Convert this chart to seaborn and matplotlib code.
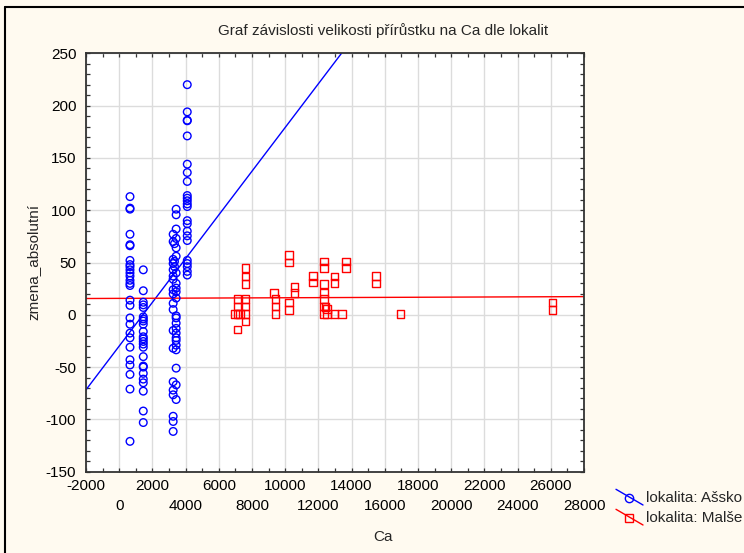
import numpy as np
import pandas as pd
import matplotlib
matplotlib.use("Agg")
import matplotlib.pyplot as plt
import seaborn as sns
from matplotlib.lines import Line2D
from matplotlib.ticker import MultipleLocator, NullLocator

# ---------------- data ----------------
# lokalita: Ašsko (blue circles)
ass_ca = ([650] * 27 + [1450] * 24 + [3250] * 19 + [3330] * 3 + [3430] * 23 + [4100] * 23)
ass_zm = [
    # Ca ~ 650
    113, 102, 101, 77, 67, 66, 52, 48, 46, 43, 40, 37, 33, 30, 28, 14, 9,
    -3, -9, -17.5, -22, -31, -43, -48, -57, -71, -121,
    # Ca ~ 1450
    43, 23, 12, 9.5, 7, -2, -4, -6, -9, -16, -21, -23, -25.5, -28, -31,
    -40, -49, -50, -56, -61.5, -65, -73, -92, -103,
    # Ca ~ 3250
    77, 70, 53, 49, 43, 37, 34, 24, 20, 11, 5, -15, -32, -64, -72, -76.5,
    -97, -102, -111.5,
    # Ca ~ 3330
    68, 51, 46,
    # Ca ~ 3430
    101, 95.6, 82, 73, 64, 56, 40, 30, 25.5, 22, 16, -1, -3, -8, -13,
    -17.5, -22, -24.5, -29, -33.5, -51, -67, -81,
    # Ca ~ 4100
    220, 194, 186, 185.5, 171, 144, 136, 127.5, 114, 111.5, 109, 106,
    103.5, 90, 87, 80, 75.5, 71, 52, 49, 46, 41.5, 38,
]

# lokalita: Malše (red squares)
mal_ca = [6960, 7120, 7120, 7120, 7120, 7260,
          7620, 7620, 7620, 7620, 7620, 7620, 7620,
          9320, 9420, 9420, 9420,
          10220, 10220, 10220, 10220,
          10560, 10560,
          11660, 11660,
          12330, 12330, 12330, 12330, 12330, 12330, 12330,
          12420, 12510, 12510,
          12970, 12970, 12970,
          13430,
          13670, 13670,
          15480, 15480,
          16940,
          26100, 26100]
mal_zm = [1, 15, 8, 1, -14, 1,
          44.6, 36.6, 29.6, 15, 8, 1, -6.4,
          20.7, 15, 8, 1,
          57.4, 50, 11.8, 4.8,
          26.5, 20.7,
          37.3, 30.9,
          51, 44.6, 29.6, 21, 15, 8, 1,
          7.5, 5.4, 1,
          36.6, 30.3, 1,
          1,
          51, 45,
          37, 30,
          1,
          11.8, 4.8]

# linear fits shown in the chart: [intercept, slope]
ass_fit = [-29.9, 0.0209]
mal_fit = [15.7, 0.00006]

x_ticks = list(range(-2000, 28001, 2000))
x_ticks_upper = x_ticks[0::2]   # -2000, 2000, 6000, ...
x_ticks_lower = x_ticks[1::2]   # 0, 4000, 8000, ...
y_ticks = list(range(-150, 251, 50))
title = "Graf závislosti velikosti přírůstku na Ca dle lokalit"
legend_labels = ["lokalita: Ašsko", "lokalita: Malše"]

# ---------------- style ----------------
sns.set_style("white")
plt.rcParams["font.family"] = ["Liberation Sans", "DejaVu Sans"]
FS = 11
plt.rcParams["font.size"] = FS

bg = "#fffaf0"
blue = "#0000ff"
red = "#ff0000"

fig = plt.figure(figsize=(7.44, 5.53), dpi=100, facecolor=bg)
W, H = 744, 553
ax_l, ax_r, ax_t, ax_b = 86, 584, 53.3, 471.7
ax = fig.add_axes([ax_l / W, 1 - ax_b / H, (ax_r - ax_l) / W, (ax_b - ax_t) / H])
ax.set_facecolor("white")

ax.set_xlim(-2000, 28000)
ax.set_ylim(-150, 250)

ax.grid(True, which="major", color="#dcdcdc", linewidth=1.0, zorder=0)
ax.set_axisbelow(True)

# fit lines
ax.axline((0, ass_fit[0]), slope=ass_fit[1], color=blue, lw=1.0, zorder=2)
ax.axline((0, mal_fit[0]), slope=mal_fit[1], color=red, lw=1.0, zorder=2)

df_a = pd.DataFrame({"Ca": ass_ca, "zmena_absolutni": ass_zm})
df_m = pd.DataFrame({"Ca": mal_ca, "zmena_absolutni": mal_zm})
sns.scatterplot(data=df_a, x="Ca", y="zmena_absolutni", marker="o", s=30,
                facecolor="none", edgecolor=blue, linewidth=1.0, ax=ax, zorder=3)
sns.scatterplot(data=df_m, x="Ca", y="zmena_absolutni", marker="s", s=30,
                facecolor="none", edgecolor=red, linewidth=1.0, ax=ax, zorder=3)

ax.set_xlabel("")
ax.set_ylabel("")

# ticks (main axis: lower row of x labels)
ax.set_xticks(x_ticks)
ax.set_xticklabels([str(v) if v in x_ticks_lower else "" for v in x_ticks])
ax.set_yticks(y_ticks)
ax.set_yticklabels([str(v) for v in y_ticks])
ax.xaxis.set_minor_locator(MultipleLocator(1000))
ax.yaxis.set_minor_locator(MultipleLocator(10))
ax.tick_params(which="both", direction="in", top=True, right=True,
               bottom=True, left=True, length=3, width=0.9, color="#333333",
               labelsize=FS, labelcolor="black")
ax.tick_params(axis="y", which="major", pad=7)
ax.tick_params(axis="x", which="major", pad=19.5)
for sp in ax.spines.values():
    sp.set_color("#333333")
    sp.set_linewidth(1.3)

# upper row of staggered x labels
sec = ax.secondary_xaxis("bottom")
sec.set_xticks(x_ticks_upper)
sec.set_xticklabels([str(v) for v in x_ticks_upper])
sec.xaxis.set_minor_locator(NullLocator())
sec.tick_params(axis="x", length=0, pad=5.5, labelsize=FS, labelcolor="black")
sec.spines["bottom"].set_visible(False)

# texts
fig.text(383 / W, 1 - 31 / H, title, ha="center", va="center", fontsize=FS)
fig.text(383 / W, 1 - 537 / H, "Ca", ha="center", va="center", fontsize=FS)
fig.text(33 / W, 1 - 262 / H, "zmena_absolutní", ha="center", va="center",
         rotation=90, fontsize=FS)

# legend (drawn manually to mimic slanted sample lines)
entries = [(legend_labels[0], blue, "o", 489.3, 505.0, 497.5),
           (legend_labels[1], red, "s", 509.3, 525.0, 517.5)]
for lab, col, mk, y0, y1, ym in entries:
    fig.add_artist(Line2D([616 / W, 643 / W], [1 - y0 / H, 1 - y1 / H],
                          transform=fig.transFigure, color=col, lw=1.0))
    fig.add_artist(Line2D([629 / W], [1 - ym / H], transform=fig.transFigure,
                          marker=mk, markersize=6, markerfacecolor="none",
                          markeredgecolor=col, markeredgewidth=1.0, linestyle="none"))
    fig.text(646 / W, 1 - ym / H, lab, ha="left", va="center", fontsize=FS)

# outer frame (top and left edges visible)
fig.add_artist(Line2D([5 / W, 1.0], [1 - 7.3 / H, 1 - 7.3 / H], transform=fig.transFigure,
                      color="black", lw=1.5))
fig.add_artist(Line2D([5 / W, 5 / W], [0.0, 1 - 7.3 / H], transform=fig.transFigure,
                      color="black", lw=1.5))

fig.savefig("out.png", dpi=100, facecolor=bg)
